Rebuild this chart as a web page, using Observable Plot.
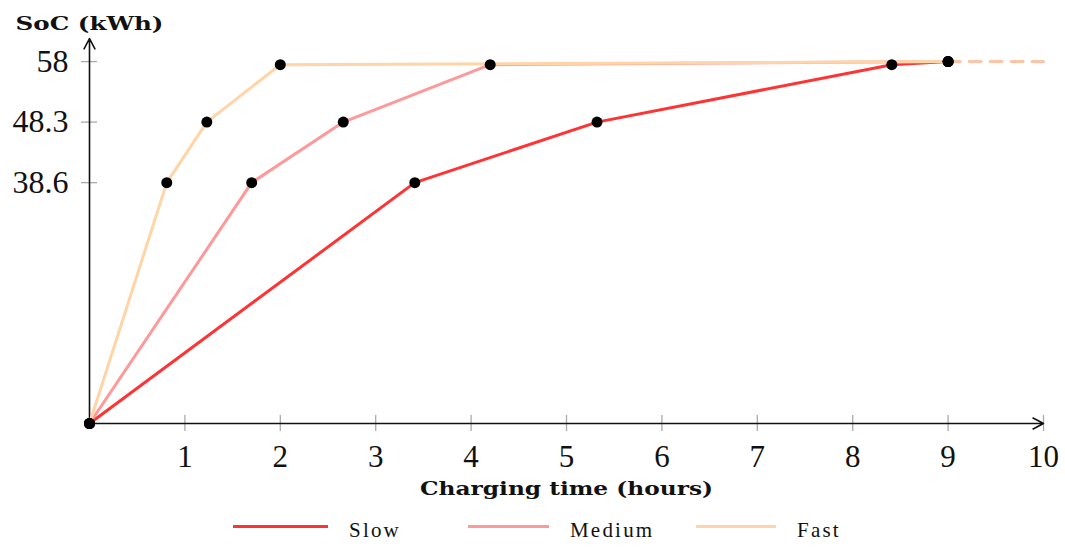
<!DOCTYPE html>
<html>
<head>
<meta charset="utf-8">
<script src="https://cdn.jsdelivr.net/npm/d3@7"></script>
<script src="https://cdn.jsdelivr.net/npm/@observablehq/plot@0.6"></script>
<style>
  html, body { margin: 0; padding: 0; background: #fff; }
  #chart { width: 1065px; }
  .legend { position: relative; height: 42px; font-family: "Liberation Serif", serif; font-size: 21px; letter-spacing: 2.2px; color: #111; }
  .item { position: absolute; top: 4px; display: flex; align-items: center; height: 42px; }
  .swatch { height: 3px; margin-right: 21px; position: relative; top: -4px; }
</style>
</head>
<body>
<div id="chart"></div>
<script>
const socLevels = [0, 38.6, 48.3, 57.5, 58];
const slowTimes = [0, 3.41, 5.32, 8.41, 9];
const mediumTimes = [0, 1.70, 2.66, 4.20, 9];
const fastTimes = [0, 0.81, 1.23, 2.0, 9];
const seriesNames = ["Slow", "Medium", "Fast"];
const seriesColors = ["#ff3333", "#ff9999", "#ffd5a8"];
const extensionTimes = [9, 10];
const extensionSoC = [58, 58];
const xTicks = [1, 2, 3, 4, 5, 6, 7, 8, 9, 10];
const yTicks = [38.6, 48.3, 58];
const yTickLabels = ["38.6", "48.3", "58"];
const xLabel = "Charging time (hours)";
const yLabel = "SoC (kWh)";
const xMax = 10, yTop = 61.7;

const seriesTimes = [slowTimes, mediumTimes, fastTimes];
const rows = seriesNames.flatMap((name, s) =>
  seriesTimes[s].map((t, i) => ({series: name, time: t, soc: socLevels[i]})));
const extension = extensionTimes.map((t, i) => ({time: t, soc: extensionSoC[i]}));

const plot = Plot.plot({
  width: 1065,
  height: 505,
  marginLeft: 89,
  marginRight: 22,
  marginTop: 38,
  marginBottom: 82,
  style: {fontFamily: "Liberation Serif, serif", background: "#fff", overflow: "visible"},
  x: {domain: [0, xMax], axis: null, label: null},
  y: {domain: [0, yTop], axis: null, label: null},
  color: {domain: seriesNames, range: seriesColors},
  marks: [
    Plot.ruleX(xTicks, {x: d => d, y1: 0, y2: 0, insetTop: 8, insetBottom: 8, stroke: "#aaa", strokeWidth: 1.3}),
    Plot.ruleY(yTicks, {y: d => d, x1: 0, x2: 0, insetLeft: 8, insetRight: 8, stroke: "#aaa", strokeWidth: 1.3}),
    Plot.arrow([0], {x1: 0, y1: 0, x2: xMax, y2: 0, stroke: "#111", strokeWidth: 1.6, headLength: 11, headAngle: 55}),
    Plot.arrow([0], {x1: 0, y1: 0, x2: 0, y2: yTop, stroke: "#111", strokeWidth: 1.6, headLength: 11, headAngle: 55}),
    Plot.axisX({ticks: xTicks, tickSize: 0, tickPadding: 21, fontSize: 31, label: null, tickFormat: d => String(d), fill: "#111"}),
    Plot.axisY({ticks: yTicks, tickSize: 0, tickPadding: 21, fontSize: 32, label: null, tickFormat: (d, i) => yTickLabels[i], fill: "#111"}),
    Plot.line(extension, {x: "time", y: "soc", stroke: "#ffc4a6", strokeWidth: 3, strokeDasharray: "12 9"}),
    Plot.line(rows, {x: "time", y: "soc", z: "series", stroke: "series", strokeWidth: 3}),
    Plot.dot(rows, {x: "time", y: "soc", r: 5.5, fill: "#000", stroke: "none"}),
    Plot.text([xLabel], {text: d => d, frameAnchor: "bottom", dy: 71, fontSize: 18, fontWeight: "bold", fill: "#111", fontFamily: "DejaVu Serif, serif"}),
    Plot.text([yLabel], {text: d => d, frameAnchor: "top-left", dy: -21, textAnchor: "middle", fontSize: 18, fontWeight: "bold", fill: "#111", fontFamily: "DejaVu Serif, serif"})
  ]
});

d3.select(plot).selectAll("text").filter(function() {
  return this.textContent === xLabel;
}).attr("textLength", 293).attr("lengthAdjust", "spacingAndGlyphs");
d3.select(plot).selectAll("text").filter(function() {
  return this.textContent === yLabel;
}).attr("textLength", 148).attr("lengthAdjust", "spacingAndGlyphs");

const chart = document.getElementById("chart");
chart.appendChild(plot);

const legend = document.createElement("div");
legend.className = "legend";
const lefts = [233, 468, 696];
const swWidths = [95, 81, 80];
seriesNames.forEach((name, i) => {
  const item = document.createElement("div");
  item.className = "item";
  item.style.left = lefts[i] + "px";
  const sw = document.createElement("div");
  sw.className = "swatch";
  sw.style.width = swWidths[i] + "px";
  sw.style.background = seriesColors[i];
  const tx = document.createElement("span");
  tx.textContent = name;
  item.appendChild(sw);
  item.appendChild(tx);
  legend.appendChild(item);
});
chart.appendChild(legend);
</script>
</body>
</html>
